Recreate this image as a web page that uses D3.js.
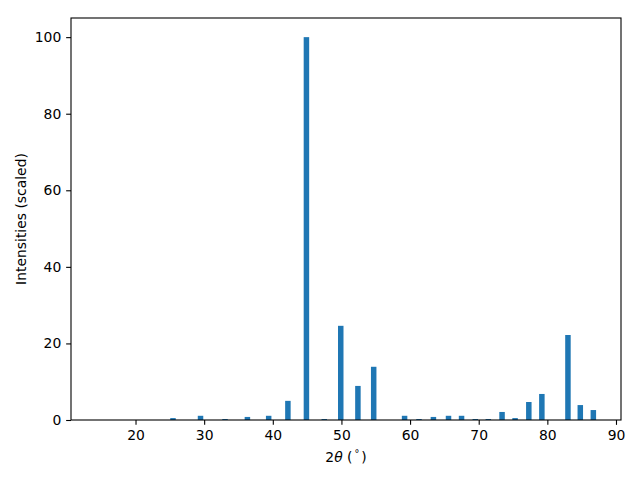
<!DOCTYPE html>
<html><head><meta charset="utf-8">
<script src="https://cdn.jsdelivr.net/npm/d3@7"></script>
<style>body{margin:0;background:#fff}</style>
</head><body>
<svg id="chart" width="640" height="480"></svg>
<script>
const twoTheta = [25.46, 29.47, 33.04, 36.3, 39.4, 42.2, 44.9, 47.5, 49.9, 52.4, 54.7, 59.2, 61.3, 63.4, 65.6, 67.5, 69.5, 71.4, 73.4, 75.3, 77.3, 79.2, 83.0, 84.8, 86.7];
const intensities = [0.5, 1.1, 0.26, 0.8, 1.1, 5.0, 100, 0.26, 24.6, 8.9, 13.9, 1.1, 0.26, 0.8, 1.1, 1.1, 0.26, 0.26, 2.1, 0.5, 4.7, 6.8, 22.2, 3.9, 2.6];
const xTicks = [20, 30, 40, 50, 60, 70, 80, 90];
const yTicks = [0, 20, 40, 60, 80, 100];
const barWidth = 0.8;
const xDomain = [10.6, 90.73];
const yDomain = [0, 105];

const svg = d3.select('#chart');
const m = {left: 71, right: 621, top: 18, bottom: 420};
const x = d3.scaleLinear().domain(xDomain).range([m.left, m.right]);
const y = d3.scaleLinear().domain(yDomain).range([m.bottom, m.top]);
const font = 'DejaVu Sans, sans-serif';
const fs = '13.9px';

svg.append('g').selectAll('rect').data(twoTheta).join('rect')
  .attr('x', (d) => x(d - barWidth/2))
  .attr('width', (d) => x(d + barWidth/2) - x(d - barWidth/2))
  .attr('y', (d, i) => y(intensities[i]))
  .attr('height', (d, i) => y(0) - y(intensities[i]))
  .attr('fill', '#1f77b4');

const xAxis = svg.append('g').attr('transform', `translate(0,${m.bottom})`)
  .call(d3.axisBottom(x).tickValues(xTicks).tickFormat(d3.format('d')).tickSize(4.86).tickPadding(4.86));
const yAxis = svg.append('g').attr('transform', `translate(${m.left},0)`)
  .call(d3.axisLeft(y).tickValues(yTicks).tickFormat(d3.format('d')).tickSize(4.86).tickPadding(4.86));
[xAxis, yAxis].forEach(g => {
  g.select('.domain').remove();
  g.selectAll('line').attr('stroke', '#000').attr('stroke-width', 1.1);
  g.selectAll('text').attr('font-family', font).attr('font-size', fs).attr('fill', '#000');
});

svg.append('rect').attr('x', m.left).attr('y', m.top)
  .attr('width', m.right - m.left).attr('height', m.bottom - m.top)
  .attr('fill', 'none').attr('stroke', '#000').attr('stroke-width', 1.1);

const xl = svg.append('text').attr('x', (m.left + m.right)/2).attr('y', 462)
  .attr('text-anchor', 'middle').attr('font-family', font).attr('font-size', fs);
xl.append('tspan').text('2');
xl.append('tspan').attr('font-style', 'italic').text('θ');
xl.append('tspan').text(' (');
xl.append('tspan').attr('font-size', '9.7px').attr('dy', -5).text('\u2009°\u2009');
xl.append('tspan').attr('dy', 5).text(')');

svg.append('text').attr('transform', `translate(26,${(m.top + m.bottom)/2}) rotate(-90)`)
  .attr('text-anchor', 'middle').attr('font-family', font).attr('font-size', fs)
  .text('Intensities (scaled)');
</script>
</body></html>
